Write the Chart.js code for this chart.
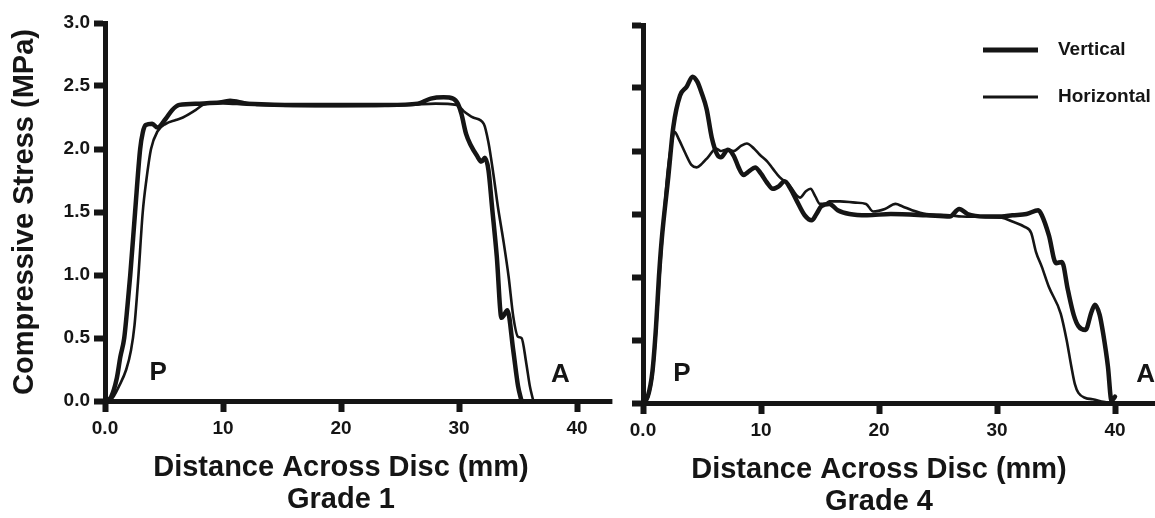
<!DOCTYPE html>
<html>
<head>
<meta charset="utf-8">
<script src="https://cdn.jsdelivr.net/npm/chart.js@4.4.0/dist/chart.umd.min.js"></script>
<style>
  html, body { margin: 0; padding: 0; background: #fff; }
  #wrap { position: relative; width: 1155px; height: 518px; overflow: hidden; }
  #wrap canvas { position: absolute; top: 0; }
  #grade1 { left: 0; }
  #grade4 { left: 620px; }
</style>
</head>
<body>
<div id="wrap">
  <canvas id="grade1" width="620" height="518"></canvas>
  <canvas id="grade4" width="535" height="518"></canvas>
</div>
<script>
// distance across disc (mm) / compressive stress (MPa)
const grade1VerticalX = [0, 0.5, 1.0, 1.3, 1.63, 1.9, 2.14, 2.55, 2.98, 3.2, 3.45, 4.0, 4.45, 5.15, 5.7, 6.3, 8.0, 10, 12, 16,
  20, 24, 26.5, 27.6, 28.7, 29.5, 29.9, 30.2, 30.6, 31.0, 31.5, 31.9, 32.2, 32.5, 32.8, 33.2, 33.6, 33.8, 34.1, 34.6, 35.0, 35.3];
const grade1VerticalY = [0, 0.03, 0.18, 0.35, 0.5, 0.75, 1.0, 1.5, 2.0, 2.13, 2.19, 2.2, 2.17, 2.24, 2.31, 2.35, 2.36, 2.37, 2.36, 2.35,
  2.35, 2.35, 2.36, 2.40, 2.41, 2.40, 2.36, 2.28, 2.12, 2.03, 1.95, 1.90, 1.93, 1.83, 1.54, 1.15, 0.66, 0.68, 0.72, 0.40, 0.12, 0];

const grade1HorizontalX = [0, 0.6, 1.2, 1.8, 2.2, 2.5, 2.8, 3.2, 3.5, 3.9, 4.45, 5.15, 6.0, 6.6, 7.7, 8.3, 9.5, 10.6, 11.8, 13,
  20, 26, 28, 29.8, 30.4, 31.2, 32.1, 32.5, 32.9, 33.3, 33.75, 34.2, 34.6, 35.0, 35.3, 35.7, 36.0, 36.3];
const grade1HorizontalY = [0, 0.02, 0.12, 0.25, 0.4, 0.6, 0.95, 1.5, 1.75, 2.0, 2.14, 2.2, 2.23, 2.25, 2.31, 2.35, 2.37, 2.39, 2.37, 2.35,
  2.34, 2.35, 2.36, 2.35, 2.30, 2.25, 2.20, 2.05, 1.81, 1.54, 1.28, 0.99, 0.67, 0.51, 0.50, 0.30, 0.12, 0];

const grade4VerticalX = [0, 0.4, 0.8, 1.1, 1.35, 1.58, 2.15, 2.57, 3.14, 3.7, 4.2, 4.6, 4.97, 5.4, 5.82, 6.3, 6.6, 7.2, 7.7, 8.1,
  8.5, 9.0, 9.5, 10.0, 10.5, 11.0, 11.5, 12.0, 12.5, 13.0, 13.7, 14.3, 14.7, 15.1, 15.8, 16.5, 17.5, 19, 21, 24,
  26, 26.8, 27.5, 29, 30.4, 31.3, 32.5, 33.5, 33.8, 34.4, 35.0, 35.5, 36.0, 36.5, 36.9, 37.5, 38.0, 38.3, 38.7, 39.0,
  39.4, 39.7, 40.0, 40.3, 40.6, 41];
const grade4VerticalY = [0, 0.05, 0.25, 0.6, 1.0, 1.29, 1.80, 2.19, 2.44, 2.51, 2.59, 2.55, 2.46, 2.33, 2.11, 1.97, 1.95, 2.01, 1.96, 1.87,
  1.81, 1.84, 1.87, 1.82, 1.75, 1.70, 1.72, 1.76, 1.70, 1.61, 1.49, 1.45, 1.50, 1.56, 1.58, 1.53, 1.50, 1.49, 1.50, 1.49,
  1.48, 1.54, 1.50, 1.48, 1.48, 1.49, 1.50, 1.53, 1.49, 1.33, 1.11, 1.12, 0.90, 0.70, 0.61, 0.58, 0.72, 0.78, 0.70, 0.55,
  0.29, 0.02, 0.05, 0.10, 0.05, 0];

const grade4HorizontalX = [0, 0.4, 0.8, 1.1, 1.4, 1.7, 2.1, 2.4, 2.7, 3.0, 3.6, 4.1, 4.55, 5.0, 5.5, 6.2, 6.6, 7.0, 7.7, 8.3,
  8.8, 9.4, 9.9, 10.5, 11.0, 11.6, 12.4, 13.0, 13.3, 13.8, 14.2, 14.6, 15.0, 15.4, 15.8, 16.7, 18.0, 18.9, 19.5, 20.5,
  21.4, 22.0, 22.8, 24, 26, 27, 30.4, 31.3, 32.3, 32.9, 33.3, 33.8, 34.4, 35.4, 35.9, 36.3, 36.6, 36.9, 37.5, 38.1,
  39, 39.5];
const grade4HorizontalY = [0, 0.04, 0.22, 0.55, 1.0, 1.4, 1.85, 2.05, 2.15, 2.1, 1.98, 1.89, 1.87, 1.9, 1.95, 2.02, 2.0, 2.01, 2.0, 2.04,
  2.06, 2.02, 1.97, 1.92, 1.86, 1.79, 1.73, 1.65, 1.63, 1.68, 1.70, 1.64, 1.58, 1.58, 1.60, 1.60, 1.59, 1.58, 1.52, 1.54,
  1.58, 1.56, 1.53, 1.50, 1.49, 1.48, 1.47, 1.44, 1.40, 1.35, 1.20, 1.08, 0.92, 0.71, 0.50, 0.29, 0.15, 0.08, 0.04, 0.03,
  0.01, 0];

// axis ticks
const distanceTicks = [0, 10, 20, 30, 40];
const distanceLabels = ['0.0', '10', '20', '30', '40'];
const stressTicks = [0, 0.5, 1.0, 1.5, 2.0, 2.5, 3.0];
const stressLabels = ['0.0', '0.5', '1.0', '1.5', '2.0', '2.5', '3.0'];

const seriesNames = ['Vertical', 'Horizontal'];

const INK = '#151515';
Chart.defaults.font.family = '"Liberation Sans", Arial, Helvetica, sans-serif';
Chart.defaults.font.weight = 'bold';
Chart.defaults.color = INK;

function toPoints(xs, ys) {
  return xs.map((x, i) => ({ x: x, y: ys[i] }));
}

// the x axis line runs on past the last tick
const axisRunout = {
  id: 'axisRunout',
  beforeDatasetsDraw(chart, args, opts) {
    const sx = chart.scales.x;
    const w = sx.options.border.width;
    const y = Math.round(sx.top - w / 2) + w / 2;
    const ctx = chart.ctx;
    ctx.save();
    ctx.strokeStyle = INK;
    ctx.lineWidth = w;
    ctx.beginPath();
    ctx.moveTo(sx.right - 2, y);
    ctx.lineTo(sx.getPixelForValue(opts.to), y);
    ctx.stroke();
    ctx.restore();
  }
};

// posterior / anterior letters at the ends of the profile
const edgeMarks = {
  id: 'edgeMarks',
  afterDatasetsDraw(chart, args, opts) {
    const ctx = chart.ctx;
    ctx.save();
    ctx.fillStyle = INK;
    ctx.font = 'bold 26px "Liberation Sans", Arial, sans-serif';
    ctx.textAlign = 'center';
    ctx.textBaseline = 'middle';
    opts.marks.forEach(m => {
      ctx.fillText(m.text, chart.scales.x.getPixelForValue(m.x), chart.scales.y.getPixelForValue(m.y));
    });
    ctx.restore();
  }
};

// line-sample key, drawn from the dataset styles
const lineKey = {
  id: 'lineKey',
  afterDatasetsDraw(chart, args, opts) {
    if (!opts.show) return;
    const ctx = chart.ctx;
    ctx.save();
    ctx.font = 'bold 19px "Liberation Sans", Arial, sans-serif';
    ctx.textBaseline = 'middle';
    chart.data.datasets.forEach((ds, i) => {
      const y = opts.top + i * opts.gap;
      ctx.strokeStyle = ds.borderColor;
      ctx.lineWidth = ds.borderWidth + 0.5;
      ctx.beginPath();
      ctx.moveTo(opts.left, y);
      ctx.lineTo(opts.left + opts.length, y);
      ctx.stroke();
      ctx.fillStyle = INK;
      ctx.fillText(ds.label, opts.left + opts.length + 20, y);
    });
    ctx.restore();
  }
};

function stressChart(canvasId, vertical, horizontal, cfg) {
  return new Chart(document.getElementById(canvasId), {
    type: 'line',
    data: {
      datasets: [
        { label: seriesNames[0], data: vertical, borderWidth: 4.5 },
        { label: seriesNames[1], data: horizontal, borderWidth: 2.6 }
      ].map(ds => Object.assign(ds, {
        borderColor: INK,
        pointRadius: 0,
        fill: false,
        clip: false,
        cubicInterpolationMode: 'monotone',
        borderCapStyle: 'round',
        borderJoinStyle: 'round'
      }))
    },
    options: {
      responsive: false,
      animation: false,
      events: [],
      layout: { padding: cfg.padding },
      plugins: {
        legend: { display: false },
        tooltip: { enabled: false },
        axisRunout: { to: cfg.runTo },
        edgeMarks: { marks: cfg.marks },
        lineKey: cfg.key
      },
      scales: {
        x: {
          type: 'linear',
          min: 0,
          max: 40,
          afterBuildTicks: s => { s.ticks = distanceTicks.map(v => ({ value: v })); },
          afterFit: s => { s.height = cfg.xHeight; },
          border: { display: true, width: 5, color: INK },
          grid: { drawOnChartArea: false, drawTicks: true, tickLength: 11, tickWidth: 6, color: INK, tickColor: INK },
          ticks: {
            font: { size: 19 },
            padding: 5,
            maxRotation: 0,
            autoSkip: false,
            callback: (v, i) => distanceLabels[i]
          },
          title: {
            display: true,
            text: ['Distance Across Disc (mm)', cfg.grade],
            font: { size: 29, lineHeight: 1.1 },
            padding: { top: 0, bottom: cfg.titlePad }
          }
        },
        y: {
          min: 0,
          max: 3,
          afterBuildTicks: s => { s.ticks = stressTicks.map(v => ({ value: v })); },
          afterFit: s => { s.width = cfg.yWidth; },
          border: { display: true, width: 5, color: INK },
          grid: { drawOnChartArea: false, drawTicks: true, tickLength: 11, tickWidth: 6, color: INK, tickColor: INK },
          ticks: {
            display: cfg.yLabels,
            font: { size: 19 },
            padding: 4,
            autoSkip: false,
            callback: (v, i) => stressLabels[i]
          },
          title: {
            display: cfg.yLabels,
            text: 'Compressive Stress (MPa)',
            font: { size: 29, lineHeight: 1.1 },
            padding: { top: 9, bottom: 0 }
          }
        }
      }
    },
    plugins: [axisRunout, edgeMarks, lineKey]
  });
}

stressChart('grade1',
  toPoints(grade1VerticalX, grade1VerticalY),
  toPoints(grade1HorizontalX, grade1HorizontalY),
  {
    grade: 'Grade 1',
    padding: { left: 0, top: 23, right: 43, bottom: 0 },
    yWidth: 105,
    xHeight: 117,
    titlePad: 2,
    yLabels: true,
    runTo: 43,
    marks: [{ text: 'P', x: 4.5, y: 0.22 }, { text: 'A', x: 38.6, y: 0.21 }],
    key: { show: false }
  });

stressChart('grade4',
  toPoints(grade4VerticalX, grade4VerticalY),
  toPoints(grade4HorizontalX, grade4HorizontalY),
  {
    grade: 'Grade 4',
    padding: { left: 0, top: 25, right: 40, bottom: 0 },
    yWidth: 23,
    xHeight: 115,
    titlePad: 0,
    yLabels: false,
    runTo: 44,
    marks: [{ text: 'P', x: 3.3, y: 0.23 }, { text: 'A', x: 42.6, y: 0.22 }],
    key: { show: true, left: 363, top: 50, gap: 47, length: 55 }
  });
</script>
</body>
</html>
